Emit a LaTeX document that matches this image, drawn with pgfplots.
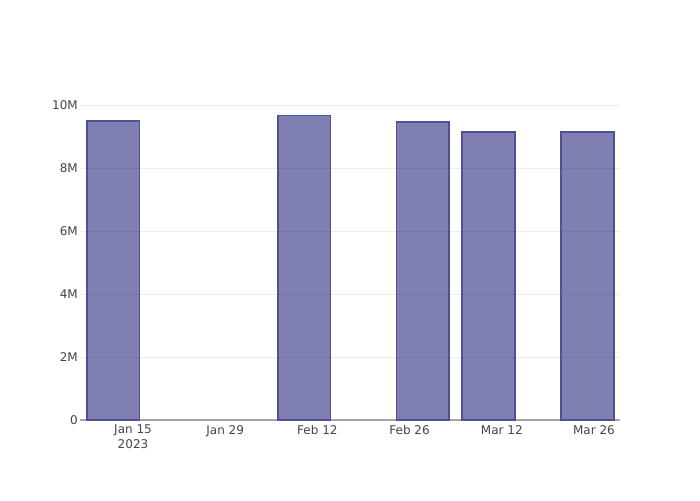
\documentclass[border=0pt]{standalone}
\usepackage{pgfplots}
\pgfplotsset{compat=1.18}
\usepackage{fontspec}
\setmainfont{DejaVu Sans}
\definecolor{barfill}{RGB}{0,0,100}
\definecolor{baredge}{RGB}{80,80,150}
\definecolor{gridc}{RGB}{235,235,235}
\definecolor{tickc}{RGB}{68,68,68}
\definecolor{zeroc}{RGB}{165,165,165}
\begin{document}
\begin{tikzpicture}
\begin{axis}[
  name=ax,
  scale only axis,
  width=540pt, height=320pt,
  xmin=-8.05, xmax=73.95,
  ymin=0, ymax=10.175e6,
  ybar, bar width=8,
  axis line style={draw=none},
  major tick length=0pt,
  xtick={0,14,28,42,56,70},
  xticklabels={{Jan 15\\2023},Jan 29,Feb 12,Feb 26,Mar 12,Mar 26},
  ytick={0,2e6,4e6,6e6,8e6,10e6},
  yticklabels={0,2M,4M,6M,8M,10M},
  scaled y ticks=false,
  ymajorgrids,
  grid style={gridc, line width=1pt},
  extra y ticks={0},
  extra y tick labels={},
  extra y tick style={grid style={zeroc, line width=1.6pt}},
  tick label style={font=\fontsize{12}{15}\selectfont, text=tickc},
  xticklabel style={anchor=north, inner sep=0pt, yshift=-5pt, align=center},
  yticklabel style={anchor=east, inner sep=0pt, xshift=-2pt},
  /pgf/number format/assume math mode=true,
]
\addplot[fill=barfill, fill opacity=0.5, draw=baredge, line width=1.8pt]
  coordinates {(-3,9.51e6) (26,9.68e6) (44,9.47e6) (54,9.17e6) (69,9.17e6)};
\end{axis}
\path (ax.south west) ++(-80pt,-80pt) rectangle ++(700pt,500pt);
\end{tikzpicture}
\end{document}
